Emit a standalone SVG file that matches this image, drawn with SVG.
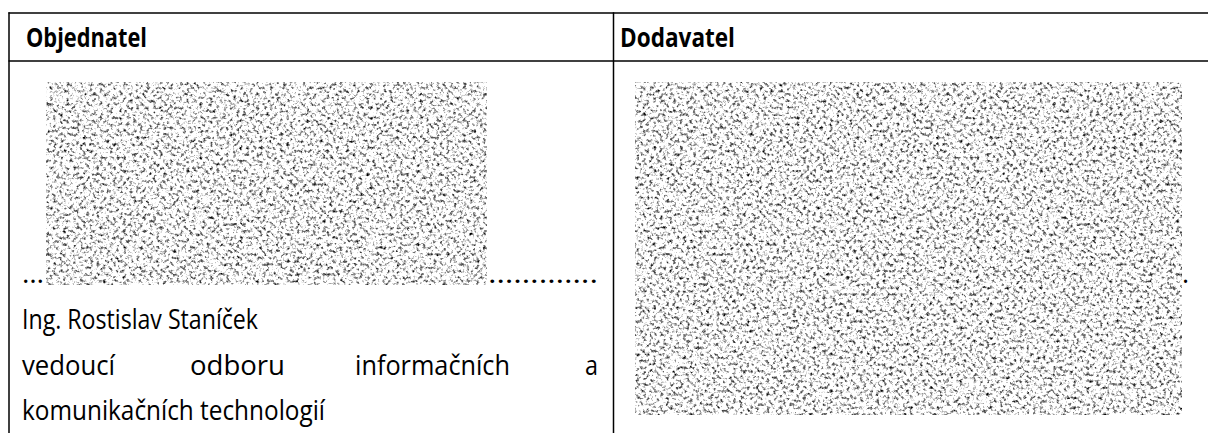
<svg xmlns="http://www.w3.org/2000/svg" width="1208" height="433" viewBox="0 0 1208 433">
<style>
.rule{stroke:#000;stroke-width:1.5;fill:none}
.hd{font-family:"Open Sans","Liberation Sans",sans-serif;font-weight:bold;font-size:27px;fill:#000}
.tx{font-family:"Open Sans","Liberation Sans",sans-serif;font-size:27px;fill:#000}
</style>
<defs>
<filter id="noise" x="0" y="0" width="100%" height="100%" color-interpolation-filters="sRGB">
<feTurbulence type="fractalNoise" baseFrequency="0.3" numOctaves="3" seed="7"/>
<feColorMatrix type="matrix" values="2.7 0 0 0 -0.35  2.7 0 0 0 -0.35  2.7 0 0 0 -0.35  0 0 0 0 1"/>
</filter>
</defs>
<rect width="1208" height="433" fill="#fff"/>
<g id="table-lines">
<line class="rule" x1="8.5" y1="13" x2="1208" y2="13"/>
<line class="rule" x1="8.5" y1="61" x2="1208" y2="61"/>
<line class="rule" x1="9" y1="12.3" x2="9" y2="433"/>
<line class="rule" x1="613.5" y1="12.3" x2="613.5" y2="433"/>
</g>
<g id="objednatel">
<text class="hd" x="26" y="47" textLength="121" lengthAdjust="spacingAndGlyphs">Objednatel</text>
<rect x="46" y="82" width="441" height="203" fill="#fff" filter="url(#noise)"/>
<text class="tx" x="22" y="283" textLength="22" lengthAdjust="spacingAndGlyphs">…</text>
<text class="tx" x="488" y="283" textLength="110" lengthAdjust="spacingAndGlyphs">………….</text>
<text class="tx" x="22" y="329" textLength="236" lengthAdjust="spacingAndGlyphs">Ing. Rostislav Staníček</text>
<text class="tx" x="22" y="375" textLength="93" lengthAdjust="spacingAndGlyphs">vedoucí</text>
<text class="tx" x="190" y="375" textLength="95" lengthAdjust="spacingAndGlyphs">odboru</text>
<text class="tx" x="355" y="375" textLength="155" lengthAdjust="spacingAndGlyphs">informačních</text>
<text class="tx" x="585" y="375" textLength="13" lengthAdjust="spacingAndGlyphs">a</text>
<text class="tx" x="22" y="420" textLength="303" lengthAdjust="spacingAndGlyphs">komunikačních technologií</text>
</g>
<g id="dodavatel">
<text class="hd" x="620" y="47" textLength="115" lengthAdjust="spacingAndGlyphs">Dodavatel</text>
<rect x="635" y="82" width="547" height="333" fill="#fff" filter="url(#noise)"/>
<text class="tx" x="1182" y="283">.</text>
</g>
</svg>
